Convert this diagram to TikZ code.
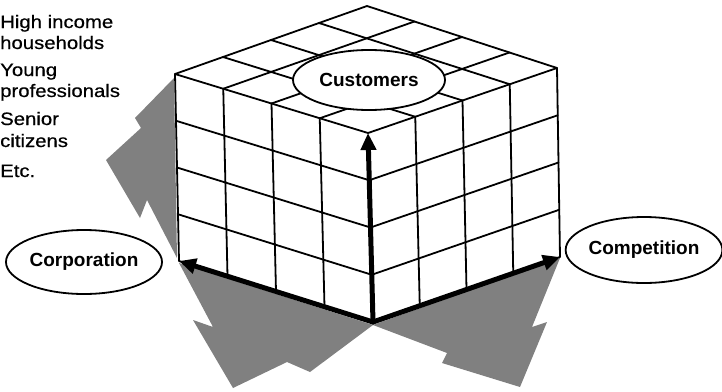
\documentclass[tikz,border=0pt]{standalone}
\usepackage{fontspec}
\setmainfont{Liberation Sans}
\newfontfamily\listfont[FakeStretch=1.13,FakeBold=0.5]{Liberation Sans}
\newfontfamily\labelfont{Liberation Sans}
\usetikzlibrary{shapes.geometric,arrows.meta,calc}
\tikzset{
  gridline/.style={line width=1.8pt, line join=round, line cap=round},
  shade/.style={fill=black!50, draw=none},
  axisarrow/.style={line width=5pt, line cap=round, -{Triangle[length=17pt,width=15pt]}},
  oval/.style={ellipse, draw, fill=white, line width=1.8pt, inner sep=0pt,
    font=\labelfont\bfseries\fontsize{19}{22}\selectfont},
  listtext/.style={anchor=base west, inner sep=0pt, font=\listfont\fontsize{18}{20}\selectfont}
}
\begin{document}
\begin{tikzpicture}[x=1pt,y=-1pt]
\useasboundingbox (0,0) rectangle (722,391);
% cube corners
\coordinate (TL) at (175,74);
\coordinate (TB) at (367,6);
\coordinate (TR) at (557,68);
\coordinate (TF) at (368,133);
\coordinate (BL) at (179,261);
\coordinate (BF) at (373,322);
\coordinate (BR) at (560,257);
% shaded arrows
\fill[shade] (174,78) -- (135,118) -- (141,128) -- (106,160) -- (140,218) -- (147,200) -- (177,258) -- cycle;
\fill[shade] (179,263) -- (213,327) -- (193,320) -- (233,388) -- (287,362) -- (310,372) -- (373,325) -- cycle;
\fill[shade] (560,258) -- (532,327) -- (547,322) -- (520,387) -- (442,363) -- (447,353) -- (373,325) -- cycle;
% cube
\fill[white] (TL) -- (TB) -- (TR) -- (BR) -- (BF) -- (BL) -- cycle;
\foreach \t in {0.25,0.5,0.75} {
  \draw[gridline] ($(TL)!\t!(TF)$) -- ($(TB)!\t!(TR)$);
  \draw[gridline] ($(TL)!\t!(TB)$) -- ($(TF)!\t!(TR)$);
  \draw[gridline] ($(TL)!\t!(TF)$) -- ($(BL)!\t!(BF)$);
  \draw[gridline] ($(TL)!\t!(BL)$) -- ($(TF)!\t!(BF)$);
  \draw[gridline] ($(TF)!\t!(TR)$) -- ($(BF)!\t!(BR)$);
  \draw[gridline] ($(TF)!\t!(BF)$) -- ($(TR)!\t!(BR)$);
}
\draw[gridline] (TL) -- (TB) -- (TR) -- (BR) -- (BF) -- (BL) -- cycle;
\draw[gridline] (TL) -- (TF) -- (TR);
% axes
\draw[axisarrow] (BF) -- (TF);
\draw[axisarrow] (BF) -- (BL);
\draw[axisarrow] (BF) -- (BR);
% labels
\node[oval, minimum width=152pt, minimum height=60pt] (customers) at (369,80) {Customers};
\node[oval, minimum width=156pt, minimum height=64pt] (corporation) at (84,262) {Corporation};
\node[oval, minimum width=152pt, minimum height=66pt] (competition) at (644,250) {Competition};
% list
\node[listtext] (l1) at (0,28) {High income};
\node[listtext] (l2) at (0,49) {households};
\node[listtext] (l3) at (0,76) {Young};
\node[listtext] (l4) at (0,97) {professionals};
\node[listtext] (l5) at (0,125) {Senior};
\node[listtext] (l6) at (0,147) {citizens};
\node[listtext] (l7) at (0,177) {Etc.};
\end{tikzpicture}
\end{document}
